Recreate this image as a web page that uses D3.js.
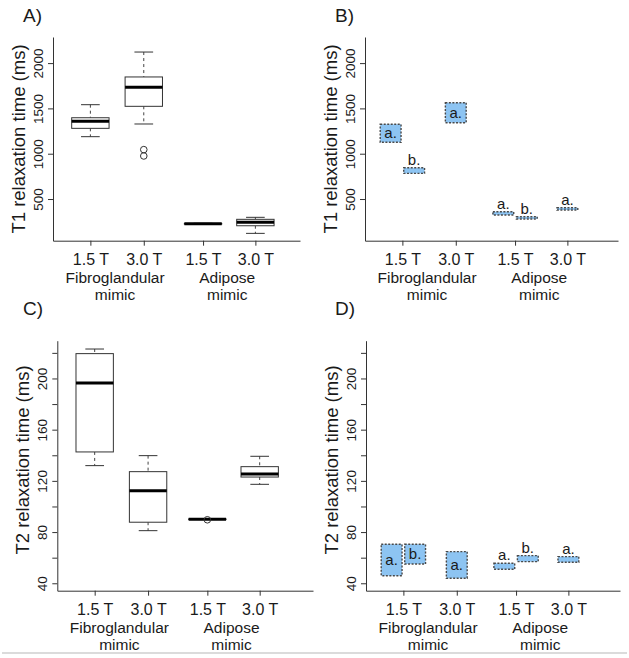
<!DOCTYPE html>
<html>
<head>
<meta charset="utf-8">
<script src="https://cdn.jsdelivr.net/npm/d3@7"></script>
<style>
  html, body { margin: 0; padding: 0; background: #fff; }
  svg { display: block; }
  text { font-family: "Liberation Sans", Arial, Helvetica, sans-serif; fill: #1a1a1a; }
</style>
</head>
<body>
<svg id="chart" width="629" height="658"></svg>
<script>
// ---------- data ----------
const categories = ["1.5 T", "3.0 T", "1.5 T", "3.0 T"];
const categoryPositions = [1, 2, 3.11, 4.09];
const groupLabels = [["Fibroglandular", "mimic"], ["Adipose", "mimic"]];
const groupCategoryIndex = [[0, 1], [2, 3]];

const t1Ticks = [500, 1000, 1500, 2000];
const t2Ticks = [40, 60, 80, 100, 120, 140, 160, 180, 200, 220];
const t2TickLabels = [40, 80, 120, 160, 200];

// Panel A: T1 boxplots
const t1Lower = [1188, 1328, 222, 121];
const t1Q1 = [1280, 1523, 224, 205];
const t1Median = [1358, 1733, 227, 243];
const t1Q3 = [1397, 1847, 230, 276];
const t1Upper = [1541, 2122, 232, 298];
const t1Outliers = [[], [1045, 975], [], []];

// Panel C: T2 boxplots
const t2Lower = [131.9, 81.1, 89.8, 117.3];
const t2Q1 = [142.6, 87.7, 89.8, 123.0];
const t2Median = [196.5, 112.3, 90.0, 125.4];
const t2Q3 = [219.4, 127.2, 90.2, 131.1];
const t2Upper = [223.0, 139.7, 90.2, 139.2];
const t2Outliers = [[], [], [89.6], []];

// Panels B/D: ranges with letters
const rangeCategory = [0, 0, 1, 2, 2, 3];
const rangeSide = [-1, 1, 0, -1, 1, 0];
const rangeLetter = ["a.", "b.", "a.", "a.", "b.", "a."];
const t1RangeLow = [1126, 783, 1342, 323, 280, 379];
const t1RangeHigh = [1325, 845, 1563, 360, 305, 404];
const t2RangeLow = [45.9, 55.1, 43.9, 50.9, 56.9, 56.4];
const t2RangeHigh = [70.5, 70.5, 64.7, 55.6, 61.6, 60.8];

// ---------- layout ----------
const svg = d3.select("#chart");
const unit = 53.4;
const layouts = {
  A: { left: 53, right: 300, top: 37, bottom: 240.7, yDomain: [40, 2288], lx: 23, ly: 22, titleY: 139 },
  B: { left: 365, right: 618, top: 37, bottom: 240.7, yDomain: [40, 2288], lx: 335, ly: 22, titleY: 139 },
  C: { left: 57.3, right: 313, top: 340.7, bottom: 590.7, yDomain: [34.2, 229.5], lx: 23, ly: 315, titleY: 460 },
  D: { left: 366, right: 620, top: 340.7, bottom: 590.7, yDomain: [34.2, 229.5], lx: 335, ly: 315, titleY: 460 }
};
const blueFill = "#8dc4f2";
const fontTick = 16;
const fontGroup = 15.5;

function setupPanel(key, yTicks, yLabelTicks, yTitle) {
  const L = layouts[key];
  const x = d3.scaleLinear().domain([0.3, 0.3 + (L.right - L.left) / unit]).range([L.left, L.right]);
  const y = d3.scaleLinear().domain(L.yDomain).range([L.bottom, L.top]);
  const g = svg.append("g");

  // panel letter
  svg.append("text").attr("x", L.lx).attr("y", L.ly).attr("font-size", 19).text(key + ")");

  // y axis
  const ya = g.append("g").attr("transform", `translate(${L.left},0)`)
    .call(d3.axisLeft(y).tickValues(yTicks).tickSize(5).tickSizeOuter(0)
      .tickFormat(d => yLabelTicks.includes(d) ? d : ""));
  ya.select(".domain").attr("stroke", "#333");
  ya.selectAll(".tick line").attr("stroke", "#333");
  ya.selectAll(".tick text")
    .attr("x", null).attr("dy", null)
    .attr("transform", "translate(-10,0) rotate(-90)")
    .attr("text-anchor", "middle")
    .attr("font-size", 13.5)
    .attr("fill", "#1a1a1a")
    .style("font-family", '"Liberation Sans", Arial, sans-serif');

  // x axis
  const xa = g.append("g").attr("transform", `translate(0,${L.bottom})`)
    .call(d3.axisBottom(x).tickValues(categoryPositions).tickSize(5).tickSizeOuter(0)
      .tickFormat((d, i) => categories[i]));
  xa.select(".domain").attr("stroke", "#333");
  xa.selectAll(".tick line").attr("stroke", "#333");
  xa.selectAll(".tick text")
    .attr("y", 24).attr("dy", null)
    .attr("font-size", fontTick)
    .attr("fill", "#1a1a1a")
    .style("font-family", '"Liberation Sans", Arial, sans-serif');

  // group labels
  groupLabels.forEach((lines, gi) => {
    const idx = groupCategoryIndex[gi];
    const cx = (x(categoryPositions[idx[0]]) + x(categoryPositions[idx[1]])) / 2 - 2;
    lines.forEach((ln, li) => {
      svg.append("text").attr("x", cx).attr("y", L.bottom + 42 + li * 17.5)
        .attr("text-anchor", "middle").attr("font-size", fontGroup).text(ln);
    });
  });

  // y title
  svg.append("text")
    .attr("transform", `translate(${L.left - 28},${L.titleY}) rotate(-90)`)
    .attr("text-anchor", "middle").attr("font-size", 18.5).text(yTitle);

  return { x, y, g };
}

function drawBoxes(P, lower, q1, med, q3, upper, outliers) {
  const halfW = 0.35 * unit;
  categories.forEach((c, i) => {
    const cx = P.x(categoryPositions[i]);
    const g = P.g.append("g");
    // whiskers
    g.append("line").attr("x1", cx).attr("x2", cx).attr("y1", P.y(upper[i])).attr("y2", P.y(q3[i]))
      .attr("stroke", "#444").attr("stroke-dasharray", "3,3");
    g.append("line").attr("x1", cx).attr("x2", cx).attr("y1", P.y(q1[i])).attr("y2", P.y(lower[i]))
      .attr("stroke", "#444").attr("stroke-dasharray", "3,3");
    [upper[i], lower[i]].forEach(v => {
      g.append("line").attr("x1", cx - halfW / 2).attr("x2", cx + halfW / 2)
        .attr("y1", P.y(v)).attr("y2", P.y(v)).attr("stroke", "#333");
    });
    g.append("rect").attr("x", cx - halfW).attr("width", 2 * halfW)
      .attr("y", P.y(q3[i])).attr("height", Math.max(0.01, P.y(q1[i]) - P.y(q3[i])))
      .attr("fill", "#fff").attr("stroke", "#333");
    g.append("line").attr("x1", cx - halfW).attr("x2", cx + halfW)
      .attr("y1", P.y(med[i])).attr("y2", P.y(med[i])).attr("stroke", "#000").attr("stroke-width", 3);
    outliers[i].forEach(v => {
      g.append("circle").attr("cx", cx).attr("cy", P.y(v)).attr("r", 3.3)
        .attr("fill", "none").attr("stroke", "#333");
    });
  });
}

function drawRanges(P, low, high) {
  const off = 0.22, w = 0.39;
  rangeCategory.forEach((ci, i) => {
    const center = categoryPositions[ci] + rangeSide[i] * off;
    const x0 = P.x(center - w / 2), x1 = P.x(center + w / 2);
    const yTop = P.y(high[i]), yBot = P.y(low[i]);
    P.g.append("rect").attr("x", x0).attr("y", yTop).attr("width", x1 - x0).attr("height", yBot - yTop)
      .attr("fill", blueFill).attr("stroke", "#4a4a4a").attr("stroke-width", 1.4)
      .attr("stroke-dasharray", "2,1.5");
    const inside = (yBot - yTop) > 18;
    P.g.append("text").attr("x", (x0 + x1) / 2)
      .attr("y", inside ? (yTop + yBot) / 2 + 5 : yTop - 3)
      .attr("text-anchor", "middle").attr("font-size", 15).text(rangeLetter[i]);
  });
}

const PA = setupPanel("A", t1Ticks, t1Ticks, "T1 relaxation time (ms)");
drawBoxes(PA, t1Lower, t1Q1, t1Median, t1Q3, t1Upper, t1Outliers);
const PB = setupPanel("B", t1Ticks, t1Ticks, "T1 relaxation time (ms)");
drawRanges(PB, t1RangeLow, t1RangeHigh);
const PC = setupPanel("C", t2Ticks, t2TickLabels, "T2 relaxation time (ms)");
drawBoxes(PC, t2Lower, t2Q1, t2Median, t2Q3, t2Upper, t2Outliers);
const PD = setupPanel("D", t2Ticks, t2TickLabels, "T2 relaxation time (ms)");
drawRanges(PD, t2RangeLow, t2RangeHigh);

// bottom separator line
svg.append("line").attr("x1", 2).attr("x2", 627).attr("y1", 653).attr("y2", 653)
  .attr("stroke", "#cfcfcf").attr("stroke-width", 1.5);
</script>
</body>
</html>
